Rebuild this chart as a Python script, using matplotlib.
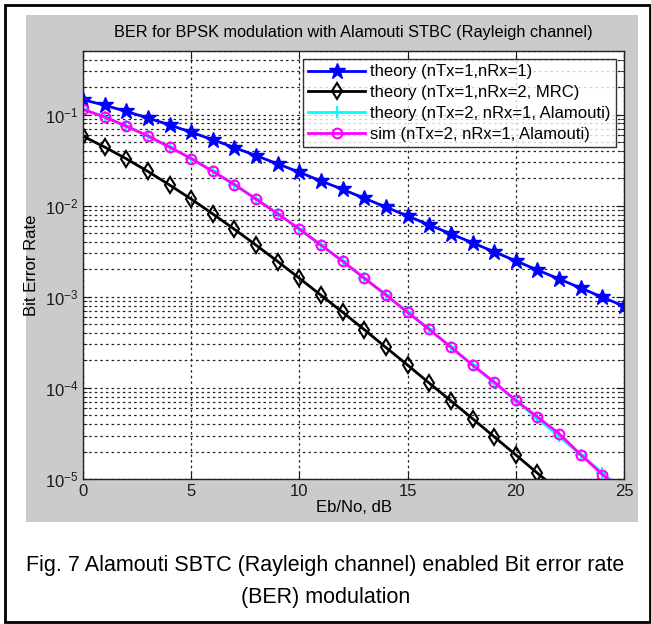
import matplotlib
matplotlib.use("Agg")
import matplotlib.pyplot as plt
from matplotlib.patches import Rectangle

plt.rcParams['font.family'] = ['Liberation Sans', 'DejaVu Sans']
plt.rcParams['mathtext.default'] = 'regular'

# Eb/No points (dB)
ebno_db = list(range(0, 26))

# values
ber_siso = [0.146, 0.127, 0.1085, 0.0919, 0.0771, 0.0642, 0.0530, 0.0435, 0.0355, 0.0288,
            0.0233, 0.0187, 0.0151, 0.0121, 0.00966, 0.00772, 0.00616, 0.00491, 0.00392,
            0.00312, 0.00248, 0.00197, 0.00157, 0.00125, 0.00099, 0.00079]
ber_mrc = [0.0580, 0.0441, 0.0328, 0.0238, 0.0169, 0.01184, 0.00813, 0.00551, 0.00369,
           0.00244, 0.00160, 0.00104, 0.000677, 0.000436, 0.000278, 0.000178, 0.000113,
           7.21e-5, 4.60e-5, 2.91e-5, 1.84e-5, 1.16e-5, 7.4e-6, 4.7e-6, 2.9e-6, 1.9e-6]
ber_alamouti = [0.1151, 0.0939, 0.0748, 0.0582, 0.0442, 0.0329, 0.0239, 0.0170, 0.01187,
                0.00816, 0.00553, 0.00371, 0.00245, 0.00161, 0.00104, 0.00068, 0.000438,
                0.000279, 0.000179, 0.000114, 7.25e-5, 4.62e-5, 2.93e-5, 1.85e-5, 1.17e-5,
                7.4e-6]
ber_sim = [0.114, 0.0945, 0.0745, 0.0585, 0.0440, 0.0330, 0.0238, 0.0171, 0.0118, 0.00815,
           0.00556, 0.00370, 0.00246, 0.00160, 0.00105, 0.000675, 0.000440, 0.000281,
           0.000178, 0.000116, 7.3e-5, 4.8e-5, 3.15e-5, 1.85e-5, 1.12e-5, 7.0e-6]

labels = ['theory (nTx=1,nRx=1)', 'theory (nTx=1,nRx=2, MRC)',
          'theory (nTx=2, nRx=1, Alamouti)', 'sim (nTx=2, nRx=1, Alamouti)']

W, H = 651, 624
fig = plt.figure(figsize=(W / 100, H / 100), dpi=100)
fig.patch.set_facecolor('white')

# gray matlab figure area and outer frame
fig.add_artist(Rectangle((26 / W, 1 - 522 / H), 612 / W, 507 / H, transform=fig.transFigure,
                         facecolor='#cbcbcb', edgecolor='none', zorder=-2))
fig.add_artist(Rectangle((5 / W, 1 - 622 / H), 645 / W, 617 / H, transform=fig.transFigure,
                         facecolor='none', edgecolor='black', linewidth=2, zorder=5))

ax = fig.add_axes([83 / W, 1 - 479 / H, 541 / W, 428 / H])
ax.set_facecolor('white')

ax.semilogy(ebno_db, ber_siso, color='blue', marker='*', markersize=12, linewidth=2,
            label=labels[0])
ax.semilogy(ebno_db, ber_mrc, color='black', marker='d', markersize=8, fillstyle='none',
            markeredgewidth=1.5, linewidth=2, label=labels[1])
ax.semilogy(ebno_db, ber_alamouti, color='cyan', marker='+', markersize=9,
            markeredgewidth=1.5, linewidth=2, label=labels[2])
ax.semilogy(ebno_db, ber_sim, color='magenta', marker='o', markersize=7, fillstyle='none',
            markeredgewidth=1.5, linewidth=2, label=labels[3])

ax.set_xlim(0, 25)
ax.set_ylim(1e-5, 0.5)
ax.set_xticks([0, 5, 10, 15, 20, 25])

ax.grid(True, which='major', axis='x', color='#222222', linestyle=(0, (2, 2.5)), linewidth=0.9)
ax.grid(True, which='both', axis='y', color='#222222', linestyle=(0, (2, 2.5)), linewidth=0.9)
ax.set_axisbelow(True)

ax.tick_params(which='both', direction='in', top=True, right=True, labelsize=12,
               colors='#1a1a1a')
ax.tick_params(which='major', length=6)
ax.tick_params(which='minor', length=3)
for s in ax.spines.values():
    s.set_linewidth(1.0)
    s.set_color('#222222')

ax.set_title('BER for BPSK modulation with Alamouti STBC (Rayleigh channel)', fontsize=11.7,
             pad=10)
ax.set_xlabel('Eb/No, dB', fontsize=12, labelpad=1)
ax.set_ylabel('Bit Error Rate', fontsize=12, labelpad=4)

leg = ax.legend(loc='upper right', fontsize=12, frameon=True, fancybox=False,
                borderaxespad=0.5, handlelength=3.4, labelspacing=0.35,
                borderpad=0.3, handletextpad=0.3)
leg.get_frame().set_edgecolor('black')
leg.get_frame().set_linewidth(1.0)

fig.text(0.5, 1 - 565 / H, 'Fig. 7 Alamouti SBTC (Rayleigh channel) enabled Bit error rate',
         ha='center', va='center', fontsize=15.5)
fig.text(0.5, 1 - 598 / H, '(BER) modulation', ha='center', va='center', fontsize=15.5)

fig.savefig('out.png', dpi=100)
